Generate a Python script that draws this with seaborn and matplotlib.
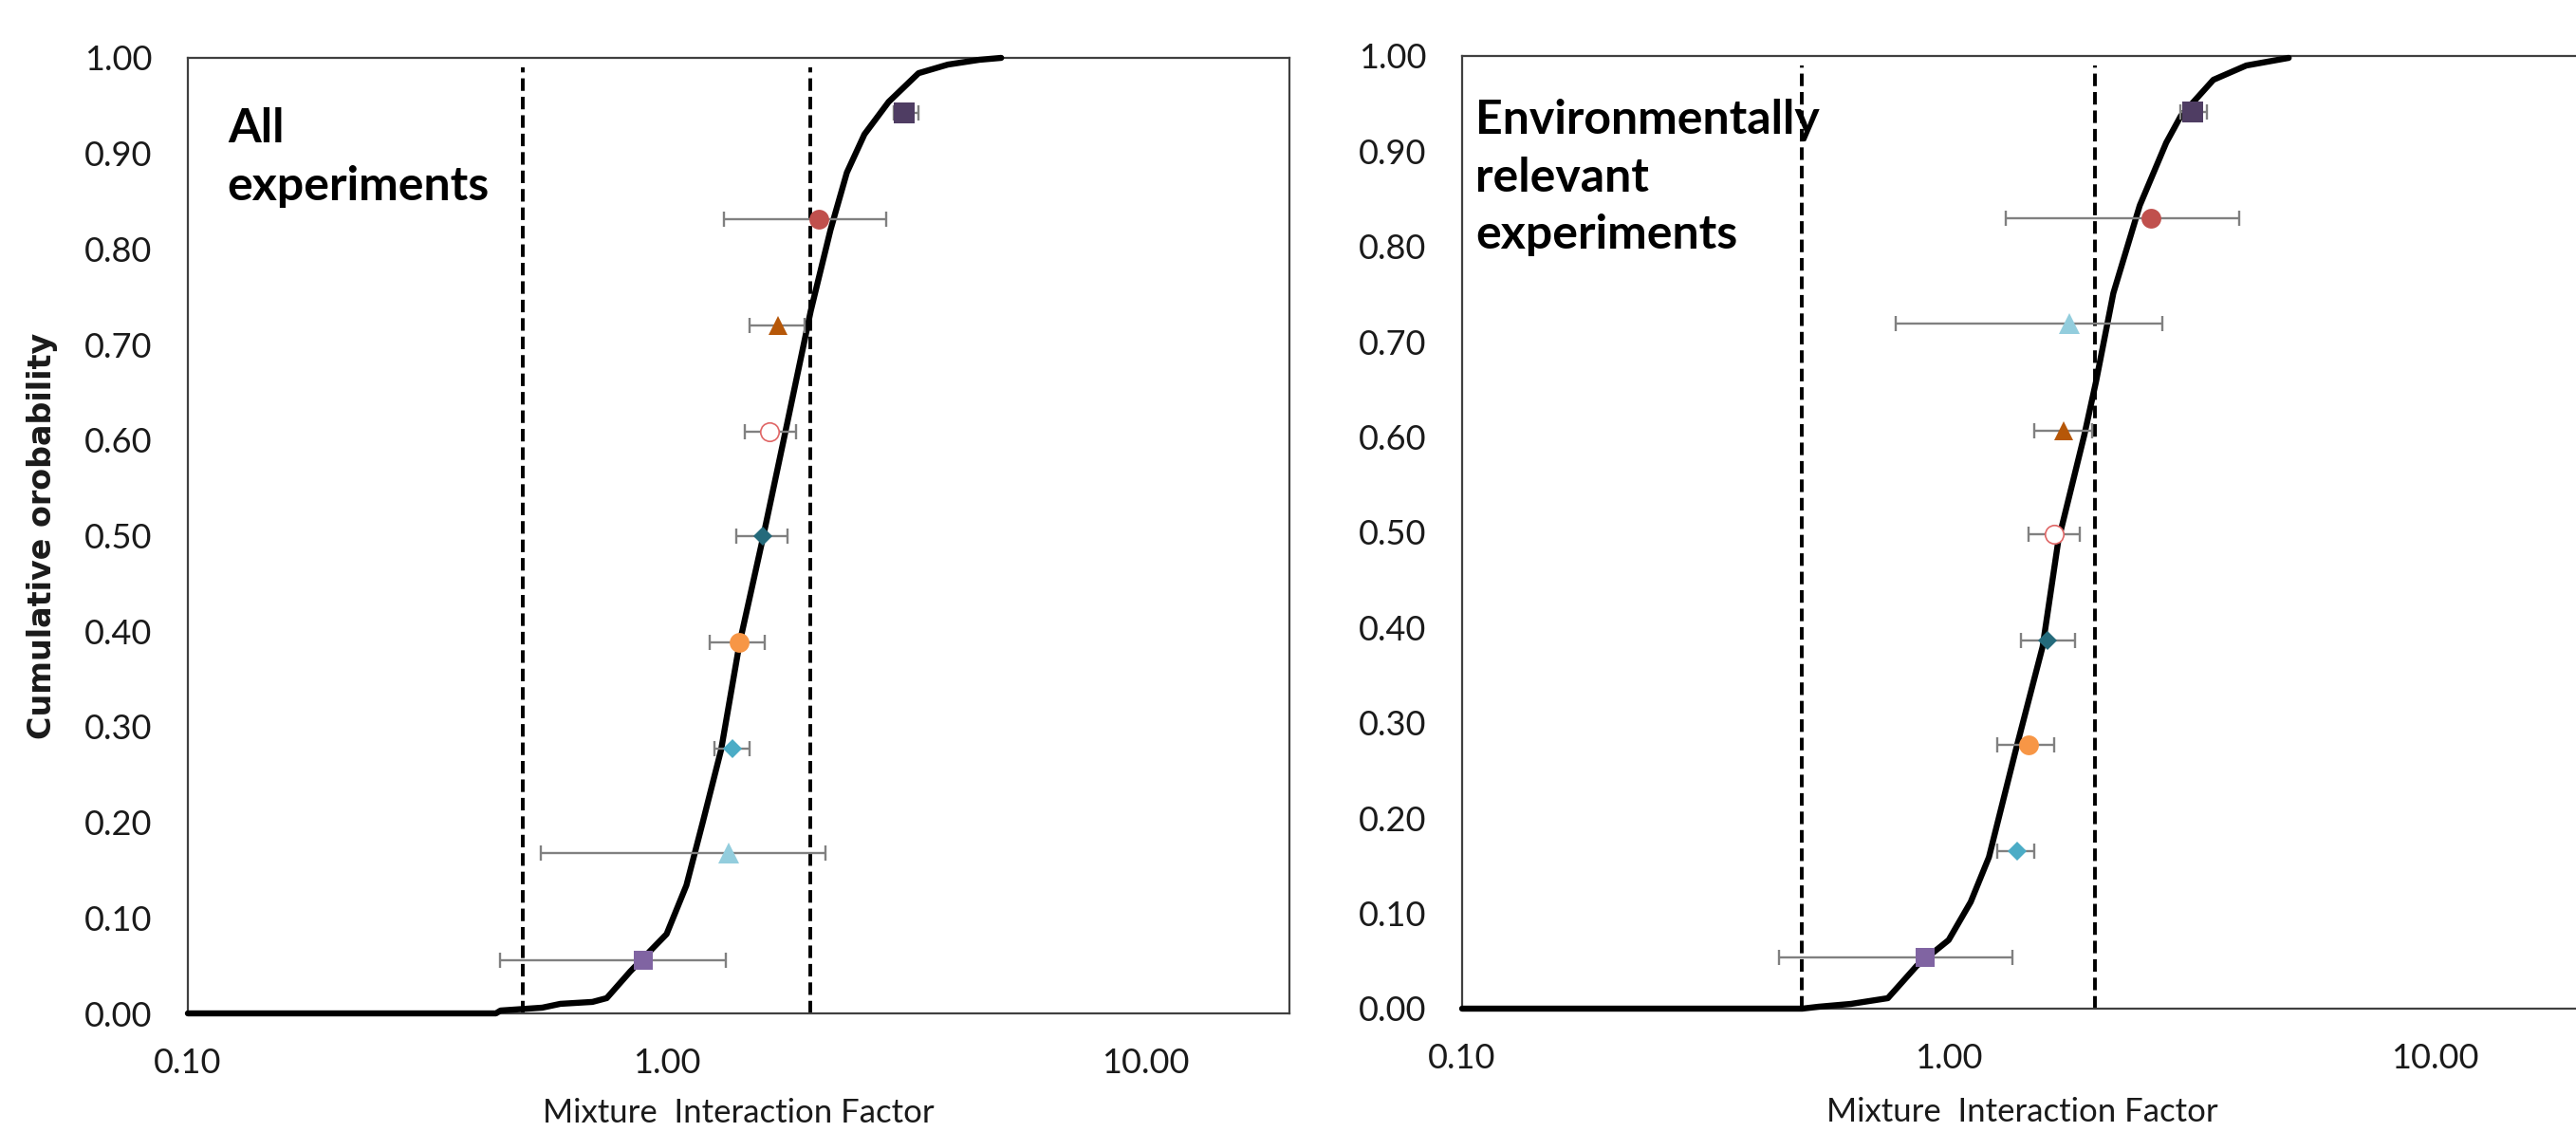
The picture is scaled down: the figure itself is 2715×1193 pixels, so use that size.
import matplotlib
matplotlib.use("Agg")
import matplotlib.pyplot as plt
import matplotlib.ticker as ticker
import seaborn as sns
import pandas as pd
import numpy as np

# cumulative distribution of the mixture interaction factor
all_cdf_x = [0.10, 0.44, 0.45, 0.55, 0.60, 0.70, 0.75, 0.84, 1.00, 1.10, 1.19, 1.30, 1.42,
             1.59, 1.78, 2.00, 2.08, 2.20, 2.38, 2.59, 2.91, 3.36, 3.87, 4.50, 5.00]
all_cdf_p = [0.000, 0.000, 0.003, 0.006, 0.010, 0.012, 0.016, 0.044, 0.083, 0.134, 0.200, 0.276, 0.387,
             0.498, 0.614, 0.735, 0.770, 0.820, 0.880, 0.920, 0.954, 0.984, 0.993, 0.998, 1.000]

env_cdf_x = [0.10, 0.50, 0.54, 0.63, 0.75, 0.86, 1.00, 1.11, 1.21, 1.37, 1.56, 1.68, 1.90,
             2.01, 2.18, 2.47, 2.80, 3.00, 3.50, 4.09, 5.00]
env_cdf_p = [0.000, 0.000, 0.002, 0.005, 0.011, 0.045, 0.072, 0.112, 0.159, 0.269, 0.380, 0.491, 0.602,
             0.659, 0.751, 0.843, 0.909, 0.937, 0.975, 0.990, 0.998]

# group estimates with their ranges, top to bottom
all_keys = ["plum_sq", "red_dot", "brown_tri", "open_dot", "teal_dia", "orange_dot", "cyan_dia", "sky_tri", "violet_sq"]
all_mif = [3.13, 2.08, 1.71, 1.64, 1.59, 1.42, 1.37, 1.35, 0.895]
all_low = [2.98, 1.32, 1.49, 1.46, 1.40, 1.23, 1.26, 0.545, 0.448]
all_high = [3.36, 2.88, 1.94, 1.86, 1.79, 1.60, 1.49, 2.15, 1.33]
all_prob = [0.942, 0.831, 0.720, 0.609, 0.500, 0.388, 0.277, 0.168, 0.056]

env_keys = ["plum_sq", "red_dot", "sky_tri", "brown_tri", "open_dot", "teal_dia", "orange_dot", "cyan_dia", "violet_sq"]
env_mif = [3.18, 2.61, 1.77, 1.72, 1.65, 1.60, 1.46, 1.38, 0.894]
env_low = [3.00, 1.31, 0.778, 1.50, 1.46, 1.41, 1.26, 1.26, 0.448]
env_high = [3.40, 3.95, 2.75, 1.97, 1.86, 1.82, 1.65, 1.50, 1.35]
env_prob = [0.941, 0.830, 0.719, 0.607, 0.498, 0.386, 0.277, 0.165, 0.054]

x_ticks = [0.1, 1.0, 10.0]
x_tick_labels = ["0.10", "1.00", "10.00"]
thresholds = [0.5, 2.0]

styles = {
    "plum_sq":    dict(marker="s", color="#4F3D63", ms=15.5),
    "red_dot":    dict(marker="o", color="#C0504D", ms=15),
    "brown_tri":  dict(marker="^", color="#B65708", ms=15),
    "open_dot":   dict(marker="o", color="#E06666", ms=14, mfc="white"),
    "teal_dia":   dict(marker="D", color="#246A7B", ms=10.5),
    "orange_dot": dict(marker="o", color="#F79646", ms=15),
    "cyan_dia":   dict(marker="D", color="#4BACC6", ms=10),
    "sky_tri":    dict(marker="^", color="#93CDDD", ms=15.5),
    "violet_sq":  dict(marker="s", color="#8064A2", ms=15),
}

sns.set_style("white")
plt.rcParams["font.family"] = ["Lato", "DejaVu Sans"]


def draw_panel(ax, cdf_x, cdf_p, keys, mif, low, high, prob, label, text_pos, xlabel_y):
    ax.set_xscale("log")
    df = pd.DataFrame({"mif": cdf_x, "p": cdf_p})
    sns.lineplot(data=df, x="mif", y="p", ax=ax, color="black", lw=4.6,
                 estimator=None, sort=False, zorder=3, clip_on=False)

    for v in thresholds:
        ax.axvline(v, ymin=0, ymax=0.99, color="black", lw=2.8, dashes=(3.4, 1.6), zorder=2)

    for k, x, lo, hi, y in zip(keys, mif, low, high, prob):
        st = styles[k]
        ax.errorbar(x, y, xerr=[[x - lo], [hi - x]], fmt="none", ecolor="#808080",
                    elinewidth=1.7, capsize=5.5, capthick=1.7, zorder=4)
        ax.plot(x, y, marker=st["marker"], ms=st["ms"], color=st["color"],
                mfc=st.get("mfc", st["color"]), mec=st["color"],
                mew=1.2 if "mfc" in st else 0, ls="none", zorder=5)

    ax.set_xlim(0.1, 20)
    ax.set_ylim(0, 1)
    ax.xaxis.set_major_locator(ticker.FixedLocator(x_ticks))
    ax.xaxis.set_major_formatter(ticker.FixedFormatter(x_tick_labels))
    ax.xaxis.set_minor_locator(ticker.LogLocator(base=10, subs=np.arange(2, 10), numticks=20))
    ax.xaxis.set_minor_formatter(ticker.NullFormatter())
    ax.yaxis.set_major_locator(ticker.MultipleLocator(0.1))
    ax.yaxis.set_major_formatter(ticker.FormatStrFormatter("%.2f"))

    ax.tick_params(axis="x", which="major", direction="out", length=10, width=1.6,
                   pad=16, labelsize=26, colors="#404040", labelcolor="#1a1a1a")
    ax.tick_params(axis="x", which="minor", direction="in", length=5, width=1.5, colors="#404040")
    ax.tick_params(axis="y", length=0, pad=27, labelsize=26, labelcolor="#1a1a1a")

    for s in ax.spines.values():
        s.set_visible(True)
        s.set_color("#404040")
        s.set_linewidth(1.6)

    ax.set_xlabel("Mixture  Interaction Factor", fontsize=25, color="#1a1a1a")
    ax.xaxis.set_label_coords(0.5, xlabel_y)
    ax.set_ylabel("")

    ax.text(text_pos[0], text_pos[1], label, transform=ax.transAxes, ha="left", va="top",
            fontsize=36, fontweight="bold", linespacing=1.42, color="black", zorder=6)


fig = plt.figure(figsize=(27.15, 11.93), dpi=100)
ax1 = fig.add_axes([198 / 2715, (1193 - 1068) / 1193, (1359 - 198) / 2715, (1068 - 61) / 1193])
ax2 = fig.add_axes([1541 / 2715, (1193 - 1063) / 1193, (2721 - 1541) / 2715, (1063 - 59) / 1193])

draw_panel(ax1, all_cdf_x, all_cdf_p, all_keys, all_mif, all_low, all_high, all_prob,
           "All\nexperiments", (0.036, 0.948), -0.088)
draw_panel(ax2, env_cdf_x, env_cdf_p, env_keys, env_mif, env_low, env_high, env_prob,
           "Environmentally\nrelevant\nexperiments", (0.012, 0.955), -0.093)

ax1.set_ylabel("Cumulative orobability", fontsize=24, fontweight="bold",
               family=["DejaVu Sans"], color="#1a1a1a")
ax1.yaxis.set_label_coords(-0.118, 0.5)

fig.savefig("out.png", dpi=100)
